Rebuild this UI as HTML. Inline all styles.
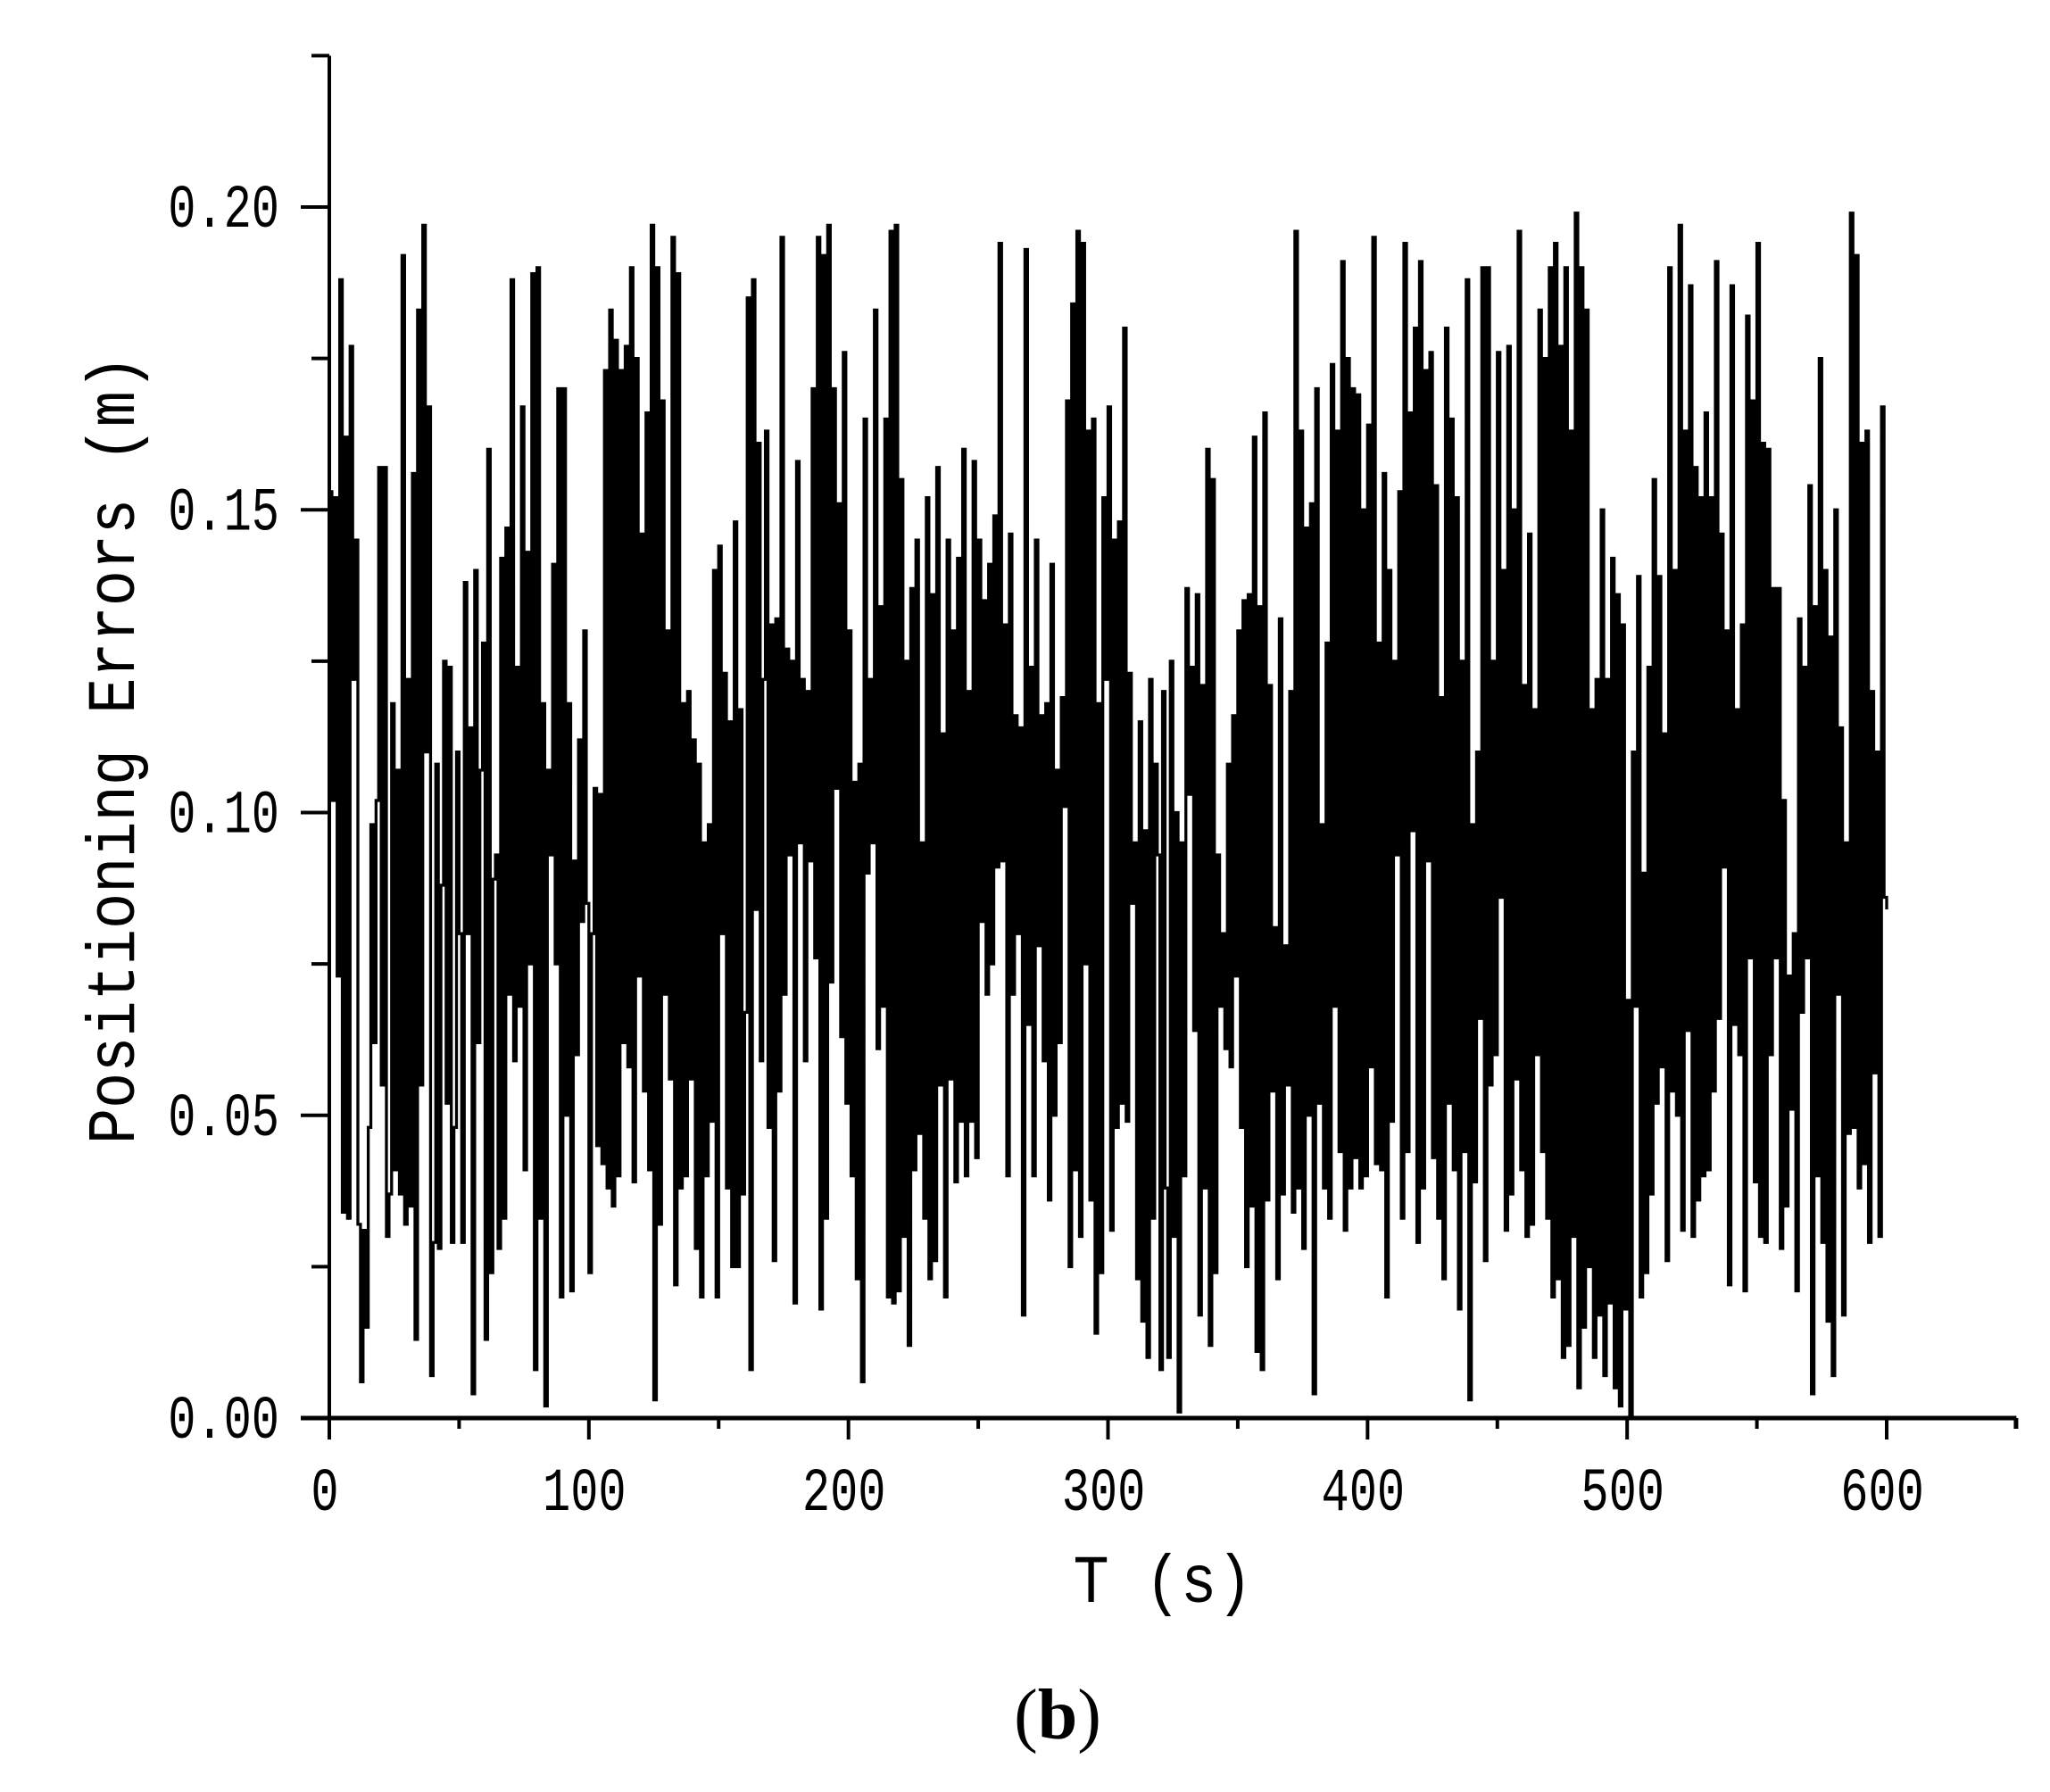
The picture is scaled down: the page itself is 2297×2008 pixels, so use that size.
<!DOCTYPE html>
<html><head><meta charset="utf-8"><style>
html,body{margin:0;padding:0;background:#fff;}
svg{display:block;}
</style></head><body>
<svg id="chart" width="2297" height="2008" viewBox="0 0 2297 2008" xmlns="http://www.w3.org/2000/svg">
<rect x="0" y="0" width="2297" height="2008" fill="#fff"/>
<g id="plot"></g>
<g id="axes"></g>
<text transform="translate(150,840) rotate(-90) scale(1,1.13)" text-anchor="middle" font-family="Liberation Mono, monospace" font-size="67" fill="#000">Positioning Errors (m)</text>
<text transform="translate(1303,1795) scale(1,1.13)" text-anchor="middle" font-family="Liberation Mono, monospace" font-size="67" fill="#000">T (s)</text>
<text x="1185" y="1948" text-anchor="middle" font-family="Liberation Serif, serif" font-size="80" fill="#000">(<tspan font-weight="bold">b</tspan>)</text>
</svg>
<script>
const xTicks = [0,100,200,300,400,500,600];
const yTicks = [0.00,0.05,0.10,0.15,0.20];
const yTickLabels = ["0.00","0.05","0.10","0.15","0.20"];
const errMilli = [
153,102,152,73,188,34,162,33,177,122,145,32,6,31,15,48,98,62,102,157,
55,157,30,37,118,41,107,37,192,32,122,35,156,13,183,55,197,110,167,7,
29,108,28,88,125,52,124,29,48,110,80,29,138,80,114,4,140,62,107,128,
13,160,24,89,93,28,142,33,147,70,188,59,124,68,167,41,143,75,189,8,
190,33,118,2,107,93,141,75,170,20,170,50,118,21,92,60,112,82,130,85,
24,80,104,45,103,42,173,38,183,35,178,40,173,62,177,58,190,39,175,73,
146,54,166,41,197,3,190,32,168,70,130,56,195,22,189,38,118,40,120,56,
112,28,108,20,95,40,98,49,140,20,144,80,123,38,115,25,148,25,117,37,
67,185,8,188,84,161,59,122,163,48,131,26,132,54,195,70,127,93,125,19,
158,95,122,59,120,92,170,76,195,18,192,33,197,72,170,104,151,63,176,52,
130,40,105,23,108,6,165,90,122,95,183,61,134,68,165,20,196,19,197,21,
155,30,125,12,137,41,145,47,95,33,152,23,136,26,157,55,113,20,145,56,
130,39,142,49,160,40,120,49,158,43,145,82,135,70,141,75,149,91,194,92,
131,40,146,70,116,80,114,17,193,65,124,40,145,78,116,59,118,36,141,50,
107,62,119,101,168,25,184,41,196,30,194,75,163,36,165,14,118,24,152,122,
167,31,145,48,148,52,180,49,123,85,95,23,115,16,97,10,122,33,108,93,
8,120,38,10,125,30,100,1,95,40,137,103,124,64,136,17,121,38,160,12,
155,24,93,68,80,61,108,58,116,73,130,48,135,25,136,35,162,11,134,8,
166,36,121,54,81,23,132,37,78,55,120,34,196,38,163,28,147,50,151,4,
170,52,98,38,128,33,174,68,163,44,191,31,175,38,170,43,169,38,150,40,
164,58,195,42,128,41,156,20,140,49,125,93,153,33,194,44,166,97,180,29,
191,38,173,92,176,43,154,33,119,23,180,52,165,41,152,18,125,44,188,3,
98,39,110,66,190,26,190,55,125,60,176,86,140,31,177,37,150,56,196,41,
121,30,146,32,117,60,183,44,175,33,190,20,194,23,177,10,190,12,163,30,
199,5,190,15,183,25,117,10,122,17,150,7,122,19,142,5,136,2,131,18,
69,0,110,68,139,20,90,24,124,37,155,52,139,58,113,26,190,54,140,50,
197,31,163,64,187,30,157,36,152,40,166,41,152,54,191,66,146,91,130,22,
187,65,117,60,131,21,182,76,168,39,194,30,161,29,160,60,137,76,137,28,
102,35,73,51,80,21,132,67,124,76,154,4,134,40,175,29,140,16,129,7,
150,70,114,17,95,47,199,48,192,38,161,42,163,29,120,57,110,30,167,86,
84
];
const NS="http://www.w3.org/2000/svg";
const X0=369, Y0=1589, PX_PER_S=1745/600, PX_PER_UNIT=(1589-232)/0.20;
function xs(t){return X0+t*PX_PER_S;}
function ys(v){return Y0-v*PX_PER_UNIT;}
function mk(tag,attrs,parent){const e=document.createElementNS(NS,tag);for(const k in attrs)e.setAttribute(k,attrs[k]);parent.appendChild(e);return e;}
const plot=document.getElementById('plot'), axes=document.getElementById('axes');
let d='M'+xs(0).toFixed(2)+','+ys(errMilli[0]/1000).toFixed(2);
for(let i=1;i<errMilli.length;i++){
  d+=' H'+xs(i).toFixed(2)+' V'+ys(errMilli[i]/1000).toFixed(2);
}
const line=mk('path',{d:d,fill:'none',stroke:'#000','stroke-width':3.3,'stroke-linejoin':'miter','stroke-linecap':'butt'},plot);


const ya=mk('line',{x1:X0,y1:ys(0.225),x2:X0,y2:Y0+24,stroke:'#000','stroke-width':4},axes);


const xa=mk('line',{x1:X0-32,y1:Y0,x2:xs(650),y2:Y0,stroke:'#000','stroke-width':5},axes);


for(let v=0.025; v<0.23; v+=0.05){
  const t=mk('line',{x1:X0-20,y1:ys(v),x2:X0,y2:ys(v),stroke:'#000','stroke-width':4},axes);
  
  
}
yTicks.forEach((v,i)=>{
  const t=mk('line',{x1:X0-32,y1:ys(v),x2:X0,y2:ys(v),stroke:'#000','stroke-width':4},axes);
  
  
  const l=mk('text',{transform:'translate(313,'+(ys(v)+22)+') scale(1,1.32)','text-anchor':'end','font-family':'Liberation Mono, monospace','font-size':52,fill:'#000'},axes);
  l.textContent=yTickLabels[i];
  
  
});
for(let t=50;t<=650;t+=100){
  const e=mk('line',{x1:xs(t),y1:Y0,x2:xs(t),y2:Y0+12,stroke:'#000','stroke-width':4},axes);
  
  
}
const endT=mk('line',{x1:xs(650)-1,y1:Y0,x2:xs(650)-1,y2:Y0+12,stroke:'#000','stroke-width':4},axes);


xTicks.forEach(t=>{
  const e=mk('line',{x1:xs(t),y1:Y0,x2:xs(t),y2:Y0+24,stroke:'#000','stroke-width':4},axes);
  
  
  const l=mk('text',{transform:'translate('+(xs(t)-5)+',1692) scale(1,1.32)','text-anchor':'middle','font-family':'Liberation Mono, monospace','font-size':52,fill:'#000'},axes);
  l.textContent=String(t);
  
  
});
</script>
</body></html>
